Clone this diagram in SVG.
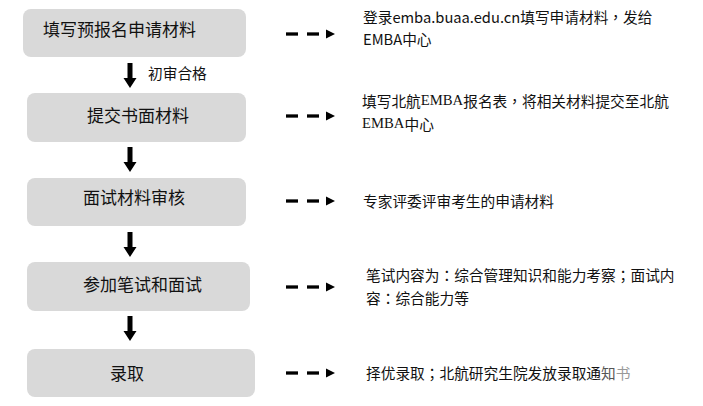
<svg xmlns="http://www.w3.org/2000/svg" width="703" height="406" viewBox="0 0 703 406">
<defs>
<style>
.box{fill:#d9d9d9;}
.bt{font-family:"Noto Sans CJK SC","Microsoft YaHei",sans-serif;font-size:17px;fill:#111;dominant-baseline:central;}
.rt{font-family:"Noto Sans CJK SC","Microsoft YaHei",sans-serif;font-size:14.7px;fill:#111;dominant-baseline:central;}
.serif{font-family:"Liberation Serif",serif;}
.p{font-family:"Noto Sans CJK TC",sans-serif;}
.dash{stroke:#000;stroke-width:3.3;fill:none;}
.tri{fill:#000;}
.down{fill:#000;}
</style>
<path id="down" d="M-2.5,0 H2.5 V15 H6.5 L0,25 L-6.5,15 H-2.5 Z"/>
<g id="darr">
<line class="dash" x1="286" y1="0" x2="298" y2="0"/>
<line class="dash" x1="307" y1="0" x2="319" y2="0"/>
<polygon class="tri" points="326,-4.5 335,0 326,4.5"/>
</g>
</defs>
<rect width="703" height="406" fill="#fff"/>
<g id="n1"><rect class="box" x="23" y="9" width="223" height="48" rx="8"/><text class="bt" x="43" y="28">填写预报名申请材料</text></g>
<g id="n2"><rect class="box" x="27" y="93" width="219" height="49" rx="8"/><text class="bt" x="87" y="114">提交书面材料</text></g>
<g id="n3"><rect class="box" x="27" y="178" width="219" height="48" rx="8"/><text class="bt" x="83" y="196">面试材料审核</text></g>
<g id="n4"><rect class="box" x="27" y="262" width="223" height="49" rx="8"/><text class="bt" x="83" y="283">参加笔试和面试</text></g>
<g id="n5"><rect class="box" x="27" y="349" width="228" height="48" rx="8"/><text class="bt" x="110" y="372">录取</text></g>
<g id="d1"><text class="rt" x="363" y="16">登录emba.buaa.edu.cn填写申请材料<tspan class="p">，</tspan>发给</text><text class="rt" x="363" y="38">EMBA中心</text></g>
<g id="d2"><text class="rt" x="362" y="100">填写北航<tspan class="serif">EMBA</tspan>报名表<tspan class="p">，</tspan>将相关材料提交至北航</text><text class="rt" x="362" y="123"><tspan class="serif">EMBA</tspan>中心</text></g>
<g id="d3"><text class="rt" x="363" y="200">专家评委评审考生的申请材料</text></g>
<g id="d4"><text class="rt" x="366" y="274">笔试内容为<tspan class="p">：</tspan>综合管理知识和能力考察<tspan class="p">；</tspan>面试内</text><text class="rt" x="366" y="297">容<tspan class="p">：</tspan>综合能力等</text></g>
<g id="d5"><text class="rt" x="366" y="372">择优录取<tspan class="p">；</tspan>北航研究生院发放录取通<tspan fill="#555">知</tspan><tspan fill="#999">书</tspan></text></g>
<g id="connectors">
<use href="#down" class="down" x="130" y="63"/>
<use href="#down" class="down" x="130" y="147"/>
<use href="#down" class="down" x="130" y="232"/>
<use href="#down" class="down" x="130" y="316"/>
<use href="#darr" y="34"/>
<use href="#darr" y="116"/>
<use href="#darr" y="201"/>
<use href="#darr" y="287"/>
<use href="#darr" y="373"/>
<text class="rt" x="148" y="72">初审合格</text>
</g>
</svg>
